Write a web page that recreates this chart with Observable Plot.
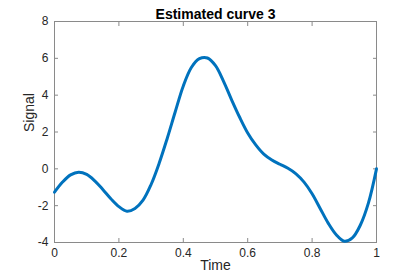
<!DOCTYPE html>
<html>
<head>
<meta charset="utf-8">
<script src="https://cdn.jsdelivr.net/npm/d3@7"></script>
<script src="https://cdn.jsdelivr.net/npm/@observablehq/plot@0.6"></script>
<style>
  html, body { margin: 0; padding: 0; background: #fff; }
  #chart svg { display: block; font-family: "Liberation Sans", Arial, sans-serif; }
</style>
</head>
<body>
<div id="chart"></div>
<script>
const title = "Estimated curve 3";
const xLabel = "Time";
const yLabel = "Signal";
const xTicks = [0, 0.2, 0.4, 0.6, 0.8, 1];
const yTicks = [-4, -2, 0, 2, 4, 6, 8];
const time = [0, 0.025, 0.05, 0.075, 0.1, 0.125, 0.15, 0.175, 0.2, 0.225, 0.25, 0.275, 0.3, 0.325, 0.35, 0.375, 0.4, 0.425, 0.45, 0.475, 0.5, 0.525, 0.55, 0.575, 0.6, 0.625, 0.65, 0.675, 0.7, 0.725, 0.75, 0.775, 0.8, 0.825, 0.85, 0.875, 0.9, 0.925, 0.95, 0.975, 1];
const signal = [-1.27, -0.72, -0.33, -0.18, -0.3, -0.65, -1.12, -1.62, -2.05, -2.3, -2.15, -1.7, -0.85, 0.3, 1.65, 3.1, 4.5, 5.5, 5.98, 6.02, 5.6, 4.75, 3.75, 2.8, 1.95, 1.3, 0.8, 0.48, 0.25, 0.03, -0.27, -0.72, -1.35, -2.15, -2.95, -3.58, -3.93, -3.75, -3.05, -1.85, 0];

const data = time.map((t, i) => ({t, v: signal[i]}));
const axisColor = "#8a8a8a";
const textColor = "#262626";

const chart = Plot.plot({
  width: 415,
  height: 277,
  marginLeft: 54,
  marginRight: 39,
  marginTop: 21,
  marginBottom: 35,
  style: {fontSize: "12px", fontFamily: "Liberation Sans, Arial, sans-serif", background: "#fff"},
  x: {domain: [0, 1]},
  y: {domain: [-4, 8]},
  marks: [
    Plot.frame({stroke: axisColor, strokeWidth: 1}),
    Plot.axisX({ticks: xTicks, anchor: "bottom", tickSize: -4, text: null, stroke: axisColor, label: null}),
    Plot.axisX({ticks: xTicks, anchor: "top", tickSize: -4, text: null, stroke: axisColor, label: null}),
    Plot.axisY({ticks: yTicks, anchor: "left", tickSize: -4, text: null, stroke: axisColor, label: null}),
    Plot.axisY({ticks: yTicks, anchor: "right", tickSize: -4, text: null, stroke: axisColor, label: null}),
    Plot.axisX({ticks: xTicks, anchor: "bottom", tickSize: 0, tickPadding: 6, fill: textColor, fontSize: 12, tickFormat: d => String(d), label: null}),
    Plot.axisY({ticks: yTicks, anchor: "left", tickSize: 0, tickPadding: 6, fill: textColor, fontSize: 12, tickFormat: d => String(d), label: null}),
    Plot.line(data, {x: "t", y: "v", stroke: "#0072BD", strokeWidth: 3, curve: "catmull-rom"}),
    Plot.text([title], {frameAnchor: "top", dy: -12, text: d => d, fontWeight: "bold", fontSize: 14, fill: "#000"}),
    Plot.text([xLabel], {frameAnchor: "bottom", dy: 27, text: d => d, fontSize: 14, fill: textColor}),
    Plot.text([yLabel], {frameAnchor: "left", dx: -25, rotate: -90, text: d => d, fontSize: 14, fill: textColor})
  ]
});
document.getElementById("chart").appendChild(chart);
</script>
</body>
</html>
